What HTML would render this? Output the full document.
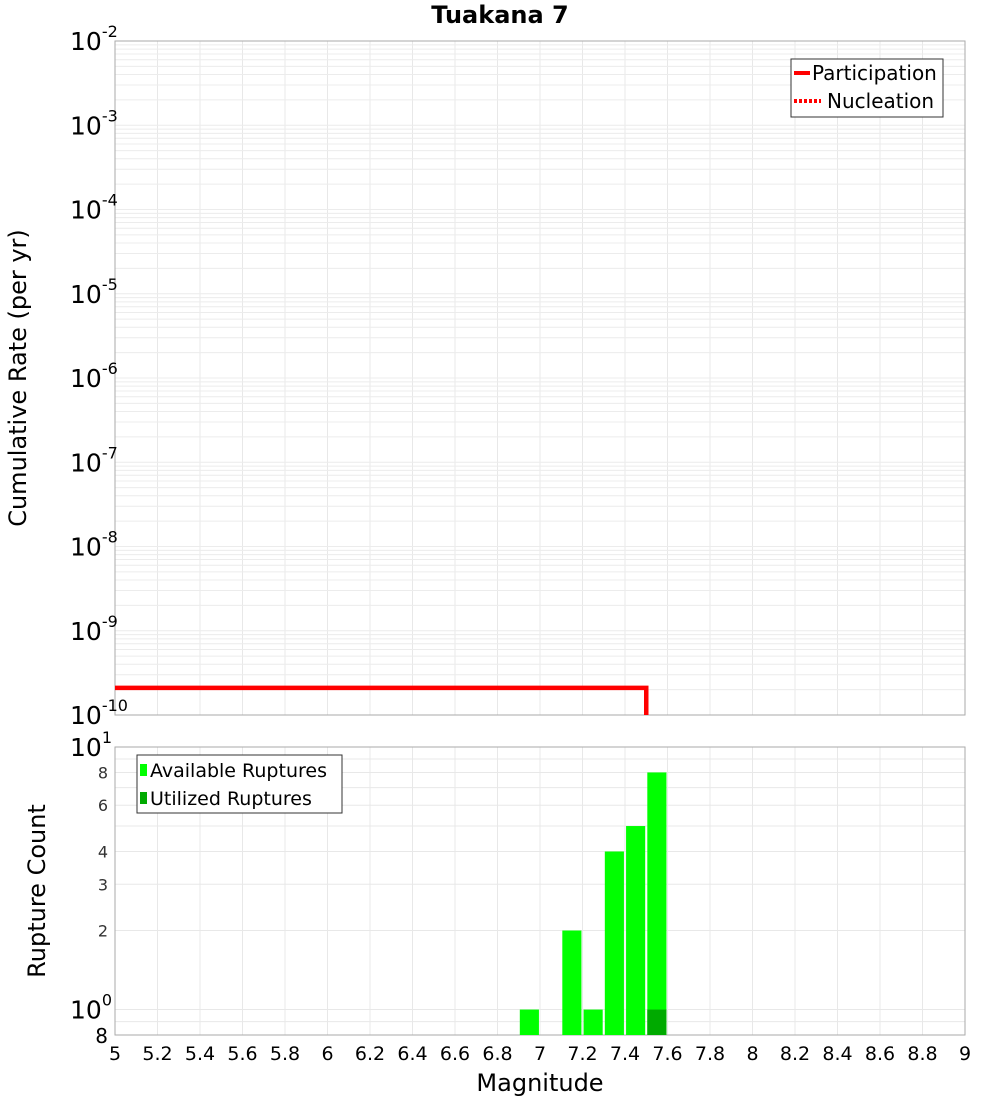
<!DOCTYPE html>
<html><head><meta charset="utf-8"><style>
body{margin:0;background:#fff;font-family:"Liberation Sans","DejaVu Sans",sans-serif}
svg text{font-family:"DejaVu Sans","Liberation Sans",sans-serif}
</style></head><body>
<svg id="c" width="1000" height="1100" xmlns="http://www.w3.org/2000/svg"></svg>
<script>
const partMag=[5,7.5,7.5];
const partRate=[2.1e-10,2.1e-10,1e-10];
const binCenters=[6.95,7.15,7.25,7.35,7.45,7.55];
const availCounts=[1,2,1,4,5,8];
const utilCenters=[7.55];
const utilCounts=[1];
const xTicks=["5","5.2","5.4","5.6","5.8","6","6.2","6.4","6.6","6.8","7","7.2","7.4","7.6","7.8","8","8.2","8.4","8.6","8.8","9"];
const topExp=[-10,-9,-8,-7,-6,-5,-4,-3,-2];
const botTicks=[8,6,4,3,2];

const NS="http://www.w3.org/2000/svg",svg=document.getElementById('c');
function el(t,a,p){const e=document.createElementNS(NS,t);for(const k in a)e.setAttribute(k,a[k]);(p||svg).appendChild(e);return e;}
const L=115,R=965,T1=41,B1=715,T2=747,B2=1035;
const x=m=>L+(m-5)/4*(R-L);
const y1=v=>B1-(Math.log10(v)+10)/8*(B1-T1);
const lo=Math.log10(0.8);
const y2=v=>B2-(Math.log10(v)-lo)/(1-lo)*(B2-T2);

let g=el('g',{});
xTicks.forEach(t=>{const xx=x(+t);el('line',{x1:xx,x2:xx,y1:T1,y2:B1,stroke:'#e8e8e8'},g);el('line',{x1:xx,x2:xx,y1:T2,y2:B2,stroke:'#e8e8e8'},g);});
for(let e=-10;e<-2;e++)for(let k=1;k<10;k++){const yy=y1(k*Math.pow(10,e));el('line',{x1:L,x2:R,y1:yy,y2:yy,stroke:'#ececec'},g);}
for(let k=1;k<=10;k++){const yy=y2(k);el('line',{x1:L,x2:R,y1:yy,y2:yy,stroke:'#e8e8e8'},g);}
el('line',{x1:L,x2:R,y1:y2(0.9),y2:y2(0.9),stroke:'#e8e8e8'},g);

let f1=el('rect',{x:L,y:T1,width:R-L,height:B1-T1,fill:'none',stroke:'#aaa'});
let f2=el('rect',{x:L,y:T2,width:R-L,height:B2-T2,fill:'none',stroke:'#aaa'});

let pts=partMag.map((m,i)=>x(m)+','+Math.min(y1(partRate[i]),B1)).join(' ');
let pl=el('polyline',{points:pts,fill:'none',stroke:'#f00','stroke-width':4.5});


const bw=0.09;
binCenters.forEach((c,i)=>{const yy=y2(availCounts[i]);const r=el('rect',{x:x(c-bw/2),y:yy,width:x(c+bw/2)-x(c-bw/2),height:B2-yy,fill:'#00ff00'});
});
utilCenters.forEach((c,i)=>{const yy=y2(utilCounts[i]);const r=el('rect',{x:x(c-bw/2),y:yy,width:x(c+bw/2)-x(c-bw/2),height:B2-yy,fill:'#00aa00'});
});

function txt(s,a,name){const t=el('text',a);t.textContent=s;return t;}
xTicks.forEach(t=>txt(t,{x:x(+t),y:1060,'font-size':19,'text-anchor':'middle'},'x-tick-label'));
topExp.forEach(e=>{const yy=y1(Math.pow(10,e));const t=txt('10',{x:70,y:yy+9,'font-size':25},'y-tick-label');
const s=document.createElementNS(NS,'tspan');s.setAttribute('dy',-13);s.setAttribute('font-size',16);s.textContent=e;t.appendChild(s);});
[[10,'1'],[1,'0']].forEach(([v,e])=>{const yy=y2(v);const t=txt('10',{x:70,y:yy+9,'font-size':25},'y2-tick-label');
const s=document.createElementNS(NS,'tspan');s.setAttribute('dy',-13);s.setAttribute('font-size',16);s.textContent=e;t.appendChild(s);});
botTicks.forEach(v=>txt(String(v),{x:108,y:y2(v)+6,'font-size':16,fill:'#333','text-anchor':'end'},'y2-tick-label'));
txt('8',{x:108,y:B2+8,'font-size':20,'text-anchor':'end'},'y2-tick-label');

txt('Tuakana 7',{x:500,y:23,'font-size':24,'font-weight':'bold','text-anchor':'middle'},'chart-title');
txt('Magnitude',{x:540,y:1091,'font-size':24,'text-anchor':'middle'},'x-axis-title');
txt('Cumulative Rate (per yr)',{x:0,y:0,'font-size':24,'text-anchor':'middle',transform:'translate(26,378) rotate(-90)'},'y-axis-title');
txt('Rupture Count',{x:0,y:0,'font-size':24,'text-anchor':'middle',transform:'translate(45,891) rotate(-90)'},'y2-axis-title');

let lg=el('g',{});
el('rect',{x:791,y:59,width:152,height:58,fill:'#fff',stroke:'#333'},lg);
el('line',{x1:794,x2:810,y1:73,y2:73,stroke:'#f00','stroke-width':4},lg);
el('line',{x1:794,x2:821,y1:101,y2:101,stroke:'#f00','stroke-width':4,'stroke-dasharray':'3,2'},lg);
txt('Participation',{x:812,y:80,'font-size':20},'legend-participation');
txt('Nucleation',{x:827,y:108,'font-size':20},'legend-nucleation');
let lg2=el('g',{});
el('rect',{x:137,y:755,width:205,height:58,fill:'#fff',stroke:'#333'},lg2);
el('rect',{x:140,y:764,width:7,height:12,fill:'#00ff00'},lg2);
el('rect',{x:140,y:792,width:7,height:12,fill:'#00aa00'},lg2);
txt('Available Ruptures',{x:150,y:777,'font-size':19},'legend-available');
txt('Utilized Ruptures',{x:150,y:805,'font-size':19},'legend-utilized');
</script>
</body></html>
